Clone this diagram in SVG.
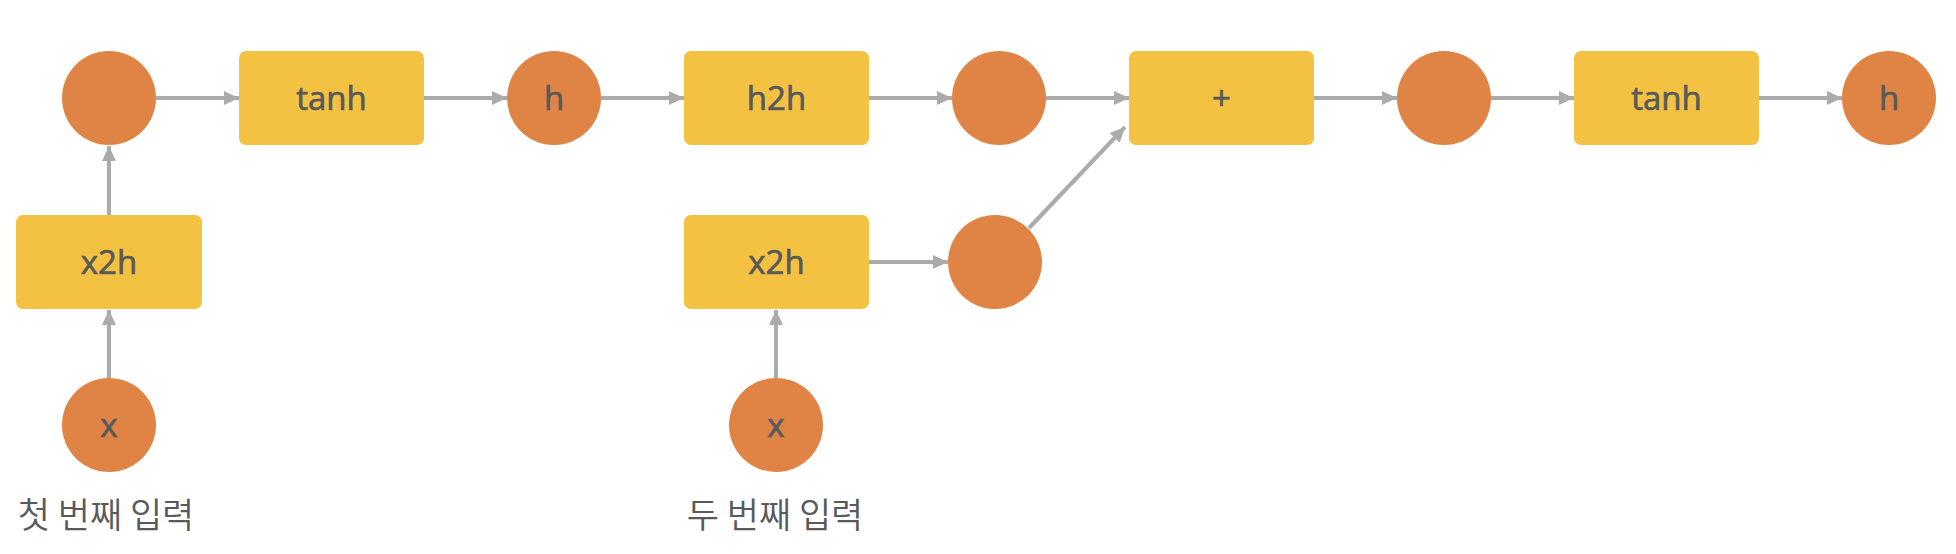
<svg xmlns="http://www.w3.org/2000/svg" width="1956" height="554" viewBox="0 0 1956 554">
<style>
.c{fill:#E08446}
.b{fill:#F4C242}
.t{font-family:"Open Sans","Noto Sans",sans-serif;font-size:33px;fill:#595959;stroke:#595959;stroke-width:0.7;text-anchor:middle}
.k{font-family:"Noto Sans CJK KR",sans-serif;font-size:35px;font-weight:350;fill:#595959;text-anchor:middle}
.e{stroke:#ABABAB;stroke-width:4;fill:none;marker-end:url(#ah)}
</style>
<defs>
<marker id="ah" markerUnits="userSpaceOnUse" markerWidth="16" markerHeight="16" viewBox="0 0 16 16" refX="15" refY="8" orient="auto">
<path d="M0,1 L15,8 L0,15 Z" fill="#ABABAB"/>
</marker>
</defs>
<rect width="1956" height="554" fill="#fff"/>
<g id="connectors">
<line class="e" x1="109" y1="379" x2="109" y2="310"/>
<line class="e" x1="109" y1="215" x2="109" y2="146"/>
<line class="e" x1="156" y1="98" x2="239" y2="98"/>
<line class="e" x1="424" y1="98" x2="507" y2="98"/>
<line class="e" x1="601" y1="98" x2="684" y2="98"/>
<line class="e" x1="869" y1="98" x2="952" y2="98"/>
<line class="e" x1="1046" y1="98" x2="1129" y2="98"/>
<line class="e" x1="1314" y1="98" x2="1397" y2="98"/>
<line class="e" x1="1491" y1="98" x2="1574" y2="98"/>
<line class="e" x1="1759" y1="98" x2="1842" y2="98"/>
<line class="e" x1="776" y1="379" x2="776" y2="310"/>
<line class="e" x1="869" y1="262" x2="948" y2="262"/>
<line class="e" x1="1029" y1="228" x2="1125" y2="127"/>
</g>
<g id="n_c1"><circle class="c" cx="109" cy="98" r="47"/></g>
<g id="n_tanh1"><rect class="b" x="239" y="51" width="185" height="94" rx="7"/><text class="t" x="331.5" y="110">tanh</text></g>
<g id="n_h1"><circle class="c" cx="554" cy="98" r="47"/><text class="t" x="554" y="110">h</text></g>
<g id="n_h2h"><rect class="b" x="684" y="51" width="185" height="94" rx="7"/><text class="t" x="776.5" y="110">h2h</text></g>
<g id="n_c2"><circle class="c" cx="999" cy="98" r="47"/></g>
<g id="n_plus"><rect class="b" x="1129" y="51" width="185" height="94" rx="7"/><text class="t" x="1221.5" y="110">+</text></g>
<g id="n_c3"><circle class="c" cx="1444" cy="98" r="47"/></g>
<g id="n_tanh2"><rect class="b" x="1574" y="51" width="185" height="94" rx="7"/><text class="t" x="1666.5" y="110">tanh</text></g>
<g id="n_h2"><circle class="c" cx="1889" cy="98" r="47"/><text class="t" x="1889" y="110">h</text></g>
<g id="n_x2h1"><rect class="b" x="16" y="215" width="186" height="94" rx="7"/><text class="t" x="109" y="274">x2h</text></g>
<g id="n_x1"><circle class="c" cx="109" cy="425" r="47"/><text class="t" x="109" y="437">x</text></g>
<g id="n_x2h2"><rect class="b" x="684" y="215" width="185" height="94" rx="7"/><text class="t" x="776.5" y="274">x2h</text></g>
<g id="n_c4"><circle class="c" cx="995" cy="262" r="47"/></g>
<g id="n_x2"><circle class="c" cx="776" cy="425" r="47"/><text class="t" x="776" y="437">x</text></g>
<g id="l1"><text class="k" x="106" y="528">첫 번째 입력</text></g>
<g id="l2"><text class="k" x="775" y="528">두 번째 입력</text></g>
</svg>
